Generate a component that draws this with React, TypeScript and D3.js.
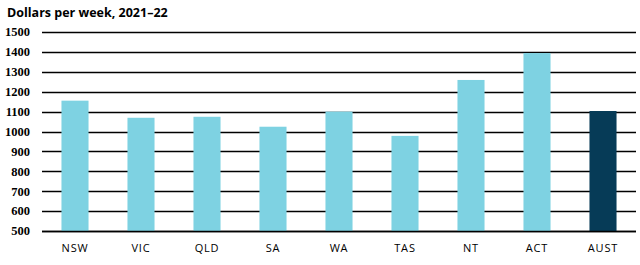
import React from "react";
import * as d3 from "d3";

const categories = ["NSW", "VIC", "QLD", "SA", "WA", "TAS", "NT", "ACT", "AUST"];
const values = [1155, 1069, 1074, 1024, 1100, 978, 1259, 1394, 1103];
const yTicks = [500, 600, 700, 800, 900, 1000, 1100, 1200, 1300, 1400, 1500];
const title = "Dollars per week, 2021\u201322";

const W = 640;
const H = 265;
const left = 42;
const right = 636;
const top = 32;
const bottom = 231;

export default function App() {
  const x = d3
    .scaleBand<string>()
    .domain(categories)
    .range([left, right])
    .paddingInner(0.59)
    .paddingOuter(0.295);
  const y = d3.scaleLinear().domain([500, 1500]).range([bottom, top]);

  return (
    <svg
      width={W}
      height={H}
      style={{ position: "absolute", left: 0, top: 0, background: "#fff" }}
    >
      <text
        x={7}
        y={17}
        fontFamily="'Open Sans', sans-serif"
        fontWeight="bold"
        fontSize={12.5}
        fill="#000"
      >
        {title}
      </text>
      {yTicks.map((t) => (
        <g key={t}>
          <line
            x1={left}
            x2={right}
            y1={Math.round(y(t)) + 0.5}
            y2={Math.round(y(t)) + 0.5}
            stroke="#000"
            strokeWidth={1.4}
          />
          <text
            x={30}
            y={y(t)}
            dy="0.35em"
            textAnchor="end"
            fontFamily="'Liberation Serif', serif"
            fontWeight="bold"
            fontSize={12.5}
            fill="#000"
          >
            {t}
          </text>
        </g>
      ))}
      {categories.map((c, i) => (
        <rect
          key={c}
          x={x(c)}
          y={y(values[i])}
          width={x.bandwidth()}
          height={y(500) - y(values[i])}
          fill={c === "AUST" ? "#063B57" : "#7ED2E2"}
        />
      ))}
      <line x1={left} x2={right} y1={bottom + 0.5} y2={bottom + 0.5} stroke="#000" strokeWidth={1.4} />
      {categories.map((c) => (
        <text
          key={c}
          x={(x(c) as number) + x.bandwidth() / 2}
          y={252}
          textAnchor="middle"
          fontFamily="'Open Sans', sans-serif"
          fontSize={11}
          letterSpacing={0.8}
          fill="#000"
        >
          {c}
        </text>
      ))}
    </svg>
  );
}
